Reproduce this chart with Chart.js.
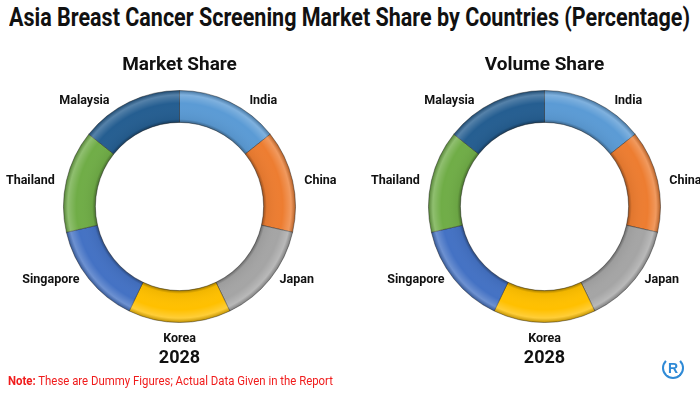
<!DOCTYPE html>
<html>
<head>
<meta charset="utf-8">
<script src="https://cdn.jsdelivr.net/npm/chart.js@4"></script>
<style>
  body { margin: 0; background: #fff; }
  #page { position: relative; width: 700px; height: 393px; overflow: hidden; }
  .fit { position: absolute; white-space: nowrap; transform-origin: 0 0; }
  #mainTitle { left: 9px; top: 3px; font: bold 25px Roboto, sans-serif; color: #111; }
  .chartBox { position: absolute; top: 0; width: 360px; height: 393px; }
  #note { left: 8px; top: 373px; font: 13px Roboto, sans-serif; color: #f01c1c; }
  #logo {
    position: absolute; left: 662px; top: 357px; width: 18px; height: 18px;
    border: 2px solid #2f8ad6; border-top-color: transparent; border-radius: 50%;
    font: bold 14px "Liberation Sans", sans-serif; color: #2f8ad6; text-align: center; line-height: 18px;
  }
</style>
</head>
<body>
<div id="page">
  <div id="mainTitle" class="fit" data-w="681">Asia Breast Cancer Screening Market Share by Countries (Percentage)</div>
  <div class="chartBox" style="left:0px"><canvas id="marketChart"></canvas></div>
  <div class="chartBox" style="left:365px"><canvas id="volumeChart"></canvas></div>
  <div id="note" class="fit" data-w="325"><b>Note:</b> These are Dummy Figures; Actual Data Given in the Report</div>
  <div id="logo">R</div>
</div>
<script>
const countries = ['India', 'China', 'Japan', 'Korea', 'Singapore', 'Thailand', 'Malaysia'];
const marketShare = [14.29, 14.29, 14.29, 14.29, 14.29, 14.29, 14.29];
const volumeShare = [14.29, 14.29, 14.29, 14.29, 14.29, 14.29, 14.29];
const chartTitles = ['Market Share', 'Volume Share'];
const year = '2028';
const colors = ['#5b9bd5', '#ed7d31', '#a5a5a5', '#ffc000', '#4472c4', '#70ad47', '#255e91'];

// squeeze condensed-looking texts to the width they take in the picture
document.querySelectorAll('.fit').forEach(el => {
    const w = el.getBoundingClientRect().width;
    el.style.transform = 'scaleX(' + (el.dataset.w / w) + ')';
});

// bevel look: radial shading over each arc
const bevelPlugin = {
    id: 'bevel',
    afterDatasetsDraw(chart) {
        const ctx = chart.ctx;
        chart.getDatasetMeta(0).data.forEach(arc => {
            const p = arc.getProps(['x', 'y', 'startAngle', 'endAngle', 'innerRadius', 'outerRadius'], true);
            const g = ctx.createRadialGradient(p.x, p.y, p.innerRadius, p.x, p.y, p.outerRadius);
            g.addColorStop(0, 'rgba(0,0,0,0.35)');
            g.addColorStop(0.1, 'rgba(0,0,0,0.05)');
            g.addColorStop(0.6, 'rgba(255,255,255,0)');
            g.addColorStop(0.86, 'rgba(255,255,255,0.22)');
            g.addColorStop(1, 'rgba(0,0,0,0.25)');
            ctx.save();
            ctx.beginPath();
            ctx.arc(p.x, p.y, p.outerRadius, p.startAngle, p.endAngle);
            ctx.arc(p.x, p.y, p.innerRadius, p.endAngle, p.startAngle, true);
            ctx.closePath();
            ctx.fillStyle = g;
            ctx.fill();
            ctx.restore();
        });
    }
};

// category labels outside the ring, chart title and year
const textPlugin = {
    id: 'texts',
    afterDraw(chart, args, opts) {
        const ctx = chart.ctx;
        const meta = chart.getDatasetMeta(0);
        ctx.save();
        ctx.fillStyle = '#111';
        meta.data.forEach((arc, i) => {
            const p = arc.getProps(['x', 'y', 'startAngle', 'endAngle', 'outerRadius'], true);
            const mid = (p.startAngle + p.endAngle) / 2;
            const s = Math.cos(mid), c = Math.sin(mid);
            ctx.font = 'bold 12.5px Roboto, sans-serif';
            if (Math.abs(s) < 0.2) {
                ctx.textAlign = 'center';
                ctx.textBaseline = c > 0 ? 'top' : 'bottom';
                ctx.fillText(chart.data.labels[i], p.x, p.y + (p.outerRadius + 10) * Math.sign(c));
            } else {
                // labels near the top sit further out sideways
                const extra = -c > 0.5 ? 16 * -c : 0;
                ctx.textAlign = s > 0 ? 'left' : 'right';
                ctx.textBaseline = 'middle';
                ctx.fillText(chart.data.labels[i],
                    p.x + (p.outerRadius + 12) * s + Math.sign(s) * extra,
                    p.y + (p.outerRadius + 1) * c);
            }
        });
        const a = meta.data[0];
        ctx.textAlign = 'center';
        ctx.textBaseline = 'middle';
        ctx.font = 'bold 19px Roboto, sans-serif';
        ctx.fillText(opts.title, a.x, 65);
        ctx.font = 'bold 18px Roboto, sans-serif';
        ctx.fillText(opts.year, a.x, 358);
        ctx.restore();
    }
};

function createDoughnut(canvasId, values, title) {
    return new Chart(document.getElementById(canvasId), {
        type: 'doughnut',
        data: {
            labels: countries,
            datasets: [{
                data: values,
                backgroundColor: colors,
                borderColor: 'rgba(40,40,40,0.45)',
                borderWidth: 1
            }]
        },
        options: {
            responsive: true,
            maintainAspectRatio: false,
            animation: false,
            cutout: '72.5%',
            layout: { padding: { left: 63, right: 64, top: 90, bottom: 70 } },
            plugins: {
                legend: { display: false },
                tooltip: { enabled: false },
                texts: { title: title, year: year }
            }
        },
        plugins: [bevelPlugin, textPlugin]
    });
}

createDoughnut('marketChart', marketShare, chartTitles[0]);
createDoughnut('volumeChart', volumeShare, chartTitles[1]);
</script>
</body>
</html>
